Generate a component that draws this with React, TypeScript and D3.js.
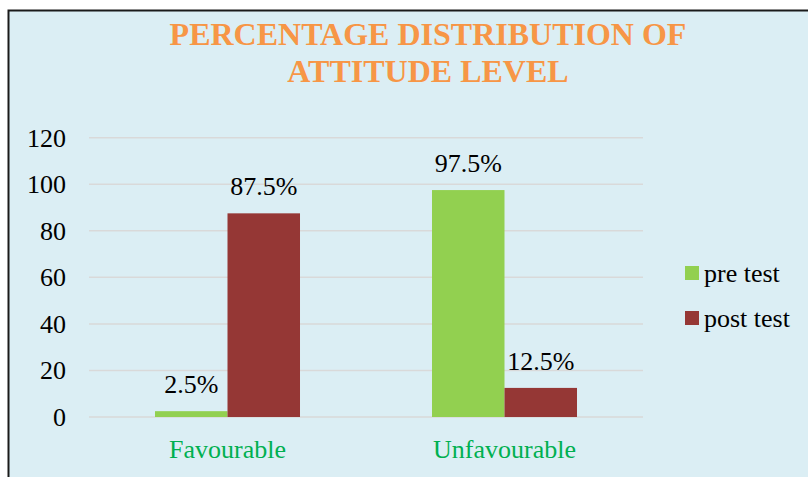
import React from "react";
import * as d3 from "d3";

const categories = ["Favourable", "Unfavourable"];
const seriesNames = ["pre test", "post test"];
const preTest = [2.5, 97.5];
const postTest = [87.5, 12.5];
const yTicks = [0, 20, 40, 60, 80, 100, 120];
const colors = ["#92D050", "#953735"];
const titleLines = ["PERCENTAGE DISTRIBUTION OF", "ATTITUDE LEVEL"];

const serif = (size: number, extra: React.CSSProperties = {}): React.CSSProperties => ({
  fontFamily: '"Liberation Serif"',
  fontSize: size,
  ...extra,
});

export default function App() {
  const W = 808;
  const H = 477;
  const x = d3.scaleBand<string>().domain(categories).range([89, 643]).paddingInner(0.4765).paddingOuter(0.23825);
  const xs = d3.scaleBand<string>().domain(seriesNames).range([0, x.bandwidth()]);
  const y = d3.scaleLinear().domain([0, 120]).range([417, 137.7]);
  const series = [preTest, postTest];
  const FS = 26;

  return (
    <svg width={W} height={H} style={{ position: "absolute", left: 0, top: 0 }}>
      <rect x={0} y={0} width={W} height={H} fill="#ffffff" />
      <rect x={8.5} y={10.5} width={W + 10} height={H + 10} fill="#DBEEF4" stroke="#1a1a1a" strokeWidth={2} />
      {titleLines.map((t, i) => (
        <text key={t} x={428} y={45 + i * 37} textAnchor="middle" fill="#F79646" style={serif(32, { fontWeight: "bold" })}>
          {t}
        </text>
      ))}
      {yTicks.map((t) => (
        <g key={t}>
          <line x1={89} x2={643} y1={y(t)} y2={y(t)} stroke="#D9D9D9" strokeWidth={1.5} />
          <text x={66} y={y(t) + 9} textAnchor="end" fill="#000" style={serif(FS)}>
            {t}
          </text>
        </g>
      ))}
      {categories.map((c, ci) => (
        <g key={c}>
          {series.map((vals, si) => {
            const bx = (x(c) as number) + (xs(seriesNames[si]) as number);
            const bw = xs.bandwidth();
            return (
              <g key={si}>
                <rect x={bx} y={y(vals[ci])} width={bw} height={y(0) - y(vals[ci])} fill={colors[si]} />
                <text x={bx + bw / 2} y={y(vals[ci]) - 18} textAnchor="middle" fill="#000" style={serif(FS)}>
                  {vals[ci]}%
                </text>
              </g>
            );
          })}
          <text x={(x(c) as number) + x.bandwidth() / 2} y={458} textAnchor="middle" fill="#00B050" style={serif(FS)}>
            {c}
          </text>
        </g>
      ))}
      {seriesNames.map((s, i) => (
        <g key={s}>
          <rect x={685} y={266 + i * 45} width={14} height={14} fill={colors[i]} />
          <text x={704} y={281.5 + i * 45} fill="#000" style={serif(FS)}>
            {s}
          </text>
        </g>
      ))}
    </svg>
  );
}
